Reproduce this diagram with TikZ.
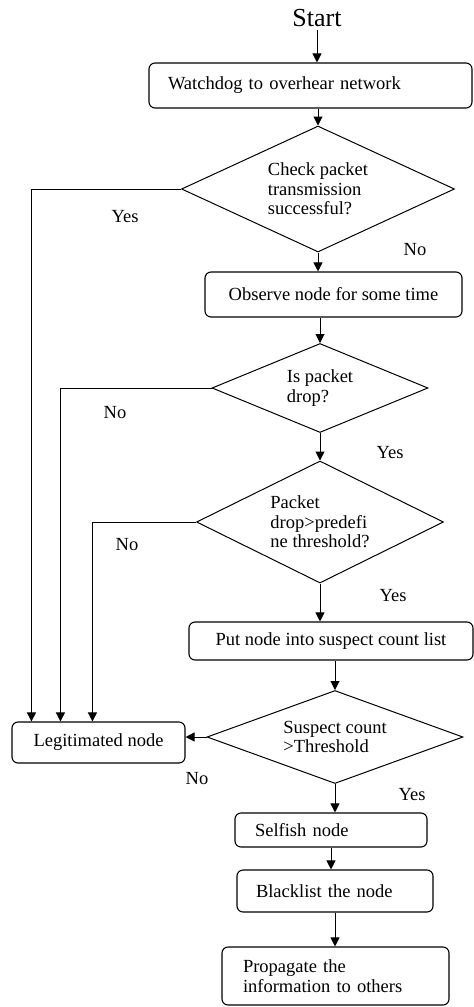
\documentclass[tikz,border=0pt]{standalone}
\usepackage{fontspec}
\setmainfont{Liberation Serif}
\usetikzlibrary{shapes.geometric,arrows.meta}

\tikzset{
    procbox/.style={draw, rounded corners=6pt, line width=1.1pt, inner sep=0pt, align=center},
    decision/.style={draw, diamond, aspect=2.3, line width=1pt, inner sep=0pt, align=left},
    flow/.style={line width=1pt, -{Triangle[length=9pt,width=9pt]}},
    lbl/.style={inner sep=0pt}
}

\begin{document}
\begin{tikzpicture}[x=1pt, y=-1pt, font=\fontsize{18.5}{19.5}\selectfont]
    \useasboundingbox (0,0) rectangle (474,1007);

    \node (start) at (317,18) {\fontsize{26}{28}\selectfont Start};
    \node[procbox, minimum width=323pt, minimum height=45pt, text width=285pt, align=left] (watch) at (310.5,85.5) {Watchdog to overhear network};
    \node[decision, minimum width=273pt, minimum height=126pt] (chk) at (318,189) {Check packet\\transmission\\successful?};
    \node[procbox, minimum width=257pt, minimum height=45pt] (obs) at (333.5,294.5) {Observe node for some time};
    \node[decision, minimum width=216pt, minimum height=89pt] (drop) at (320,388) {Is packet\\drop?};
    \node[decision, minimum width=247pt, minimum height=122pt] (thr) at (320,522) {Packet\\drop>predefi\\ne threshold?};
    \node[procbox, minimum width=284pt, minimum height=38pt] (susp) at (331,641) {Put node into suspect count list};
    \node[decision, minimum width=256pt, minimum height=93pt] (cnt) at (335,737) {Suspect count\\>Threshold};
    \node[procbox, minimum width=173pt, minimum height=41pt] (legit) at (98.5,742.5) {Legitimated node};
    \node[procbox, minimum width=192pt, minimum height=34pt, text width=152pt, align=left] (self) at (331,830) {Selfish node};
    \node[procbox, minimum width=196pt, minimum height=42pt, text width=158pt, align=left] (black) at (335,891) {Blacklist the node};
    \node[procbox, minimum width=227pt, minimum height=58pt, text width=185pt, align=left] (prop) at (335.5,976) {Propagate the\\information to others};

    \draw[flow] (start) -- (start |- watch.north);
    \draw[flow] (watch.south -| chk.north) -- (chk.north);
    \draw[flow] (chk.south) -- (chk.south |- obs.north);
    \draw[flow] (obs.south -| drop.north) -- (drop.north);
    \draw[flow] (drop.south) -- (drop.south |- thr.north);
    \draw[flow] (thr.south) -- (thr.south |- susp.north);
    \draw[flow] (susp.south -| cnt.north) -- (cnt.north);
    \draw[flow] (cnt.west) -- (cnt.west -| legit.east);
    \draw[flow] (cnt.south) -- (cnt.south |- self.north);
    \draw[flow] (self.south) -- (self.south |- black.north);
    \draw[flow] (black.south) -- (black.south |- prop.north);

    \coordinate (in1) at ([xshift=20pt]legit.north west);
    \coordinate (in2) at ([xshift=49pt]legit.north west);
    \coordinate (in3) at ([xshift=81pt]legit.north west);
    \draw[flow] (chk.west) -| (in1);
    \draw[flow] (drop.west) -| (in2);
    \draw[flow] (thr.west) -| (in3);

    \node[lbl] (yes1) at (125,217) {Yes};
    \node[lbl] (no1) at (415,250) {No};
    \node[lbl] (no2) at (115,413) {No};
    \node[lbl] (yes2) at (390,453) {Yes};
    \node[lbl] (no3) at (127,545) {No};
    \node[lbl] (yes3) at (393,596) {Yes};
    \node[lbl] (no4) at (197,779) {No};
    \node[lbl] (yes4) at (412,795) {Yes};
\end{tikzpicture}
\end{document}
